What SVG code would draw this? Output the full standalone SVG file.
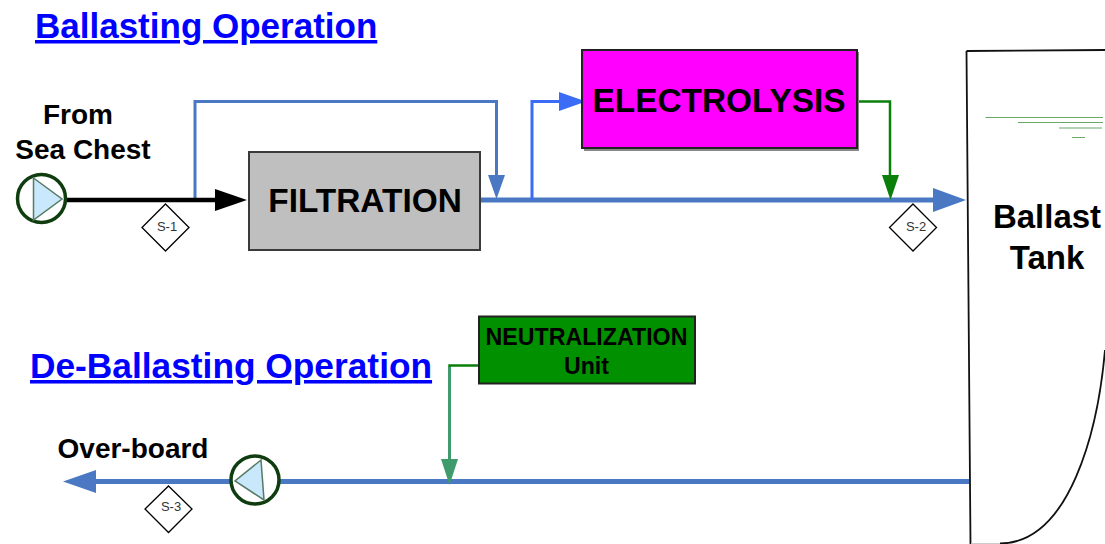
<svg xmlns="http://www.w3.org/2000/svg" width="1105" height="544" viewBox="0 0 1105 544">
<style>
text{font-family:"Liberation Sans",Arial,sans-serif;font-weight:bold;fill:#000;text-anchor:middle}
.head{fill:#0000ff;font-size:35px;text-anchor:start;text-decoration:underline}
.lbl{font-size:28px}
.s{font-size:13px;font-weight:normal;fill:#333}
.dia{fill:#fff;stroke:#000;stroke-width:1.3}
.pump{fill:#fff;stroke:#0f3d0f;stroke-width:3.5}
.tri{fill:#c9e8fb;stroke:#557a66;stroke-width:1.5}
.c{fill:none;stroke-linejoin:miter}
</style>
<rect width="1105" height="544" fill="#fff"/>
<text class="head" x="35" y="38" id="t-ballasting">Ballasting Operation</text>
<text class="head" x="30" y="378" style="font-size:35.300px" id="t-deballasting">De-Ballasting Operation</text>

<g id="node-tank">
<path d="M966.500,51 L1105,50 M966.500,51 L970.500,544" fill="none" stroke="#111" stroke-width="1.8"/>
<path d="M1105,350 C1098,430 1070,543 1000,543.500" fill="none" stroke="#111" stroke-width="1.8"/>
<path d="M971,543.500H1000" fill="none" stroke="#ccc" stroke-width="1"/>
<path d="M985.500,117.500H1103M1018,122.500H1103M1059,128H1102M1072,137.500H1085" fill="none" stroke="#6aa86a" stroke-width="1.200"/>
<text x="1047" y="228" style="font-size:33px">Ballast</text>
<text x="1047" y="269" style="font-size:33px">Tank</text>
</g>

<g id="connectors">
<path class="c" d="M480,200H945" stroke="#4a78c2" stroke-width="5"/>
<path d="M966,200 L933,188 V212Z" fill="#4a78c2"/>
<path class="c" d="M195,200V101.500H496.500V176" stroke="#4a78c2" stroke-width="3"/>
<path d="M496.500,199 L488,175 H505Z" fill="#4a78c2"/>
<path class="c" d="M532,200V101.500H560" stroke="#3a6cf5" stroke-width="3"/>
<path d="M586,101.500 L559,92 V111Z" fill="#3a6cf5"/>
<path class="c" d="M857,101.500H890V176" stroke="#0a800a" stroke-width="2.500"/>
<path d="M890.500,200 L882,175 H899Z" fill="#0a800a"/>
<path class="c" d="M64,200H216" stroke="#000" stroke-width="4.500"/>
<path d="M247,200 L215,189 V211Z" fill="#000"/>
<path class="c" d="M969,481.500H90" stroke="#4a78c2" stroke-width="5"/>
<path d="M63,481.500 L96,470 V493Z" fill="#4a78c2"/>
<path class="c" d="M480,365.500H449.500V368" stroke="#0a800a" stroke-width="2.500"/>
<path class="c" d="M449.500,367V460" stroke="#3f9a6c" stroke-width="3"/>
<path d="M449.500,485 L441,459 H458Z" fill="#3f9a6c"/>
</g>

<g id="node-filtration">
<rect x="249" y="152" width="231" height="98" fill="#bfbfbf" stroke="#3a3a3a" stroke-width="2"/>
<text x="365" y="212" style="font-size:33.400px">FILTRATION</text>
</g>
<g id="node-electrolysis">
<rect x="584" y="52" width="275" height="99" fill="#888"/>
<rect x="582" y="50" width="275" height="98" fill="#ff00ff" stroke="#222" stroke-width="2"/>
<text x="719" y="112" style="font-size:33.400px">ELECTROLYSIS</text>
</g>
<g id="node-neutralization">
<rect x="479" y="316.500" width="216" height="67" fill="#009000" stroke="#222" stroke-width="2"/>
<text x="586.500" y="345" style="font-size:23.200px">NEUTRALIZATION</text>
<text x="586.500" y="374" style="font-size:23.200px">Unit</text>
</g>

<g id="node-pump1">
<circle cx="41.500" cy="198.500" r="24" class="pump"/>
<path d="M33.500,178 L62,199 L33.500,220Z" class="tri"/>
</g>
<g id="node-pump2">
<circle cx="255" cy="480" r="24" class="pump"/>
<path d="M261,460 L235,481 L264,500Z" class="tri"/>
</g>

<g id="node-s1"><path d="M165.500,204 L189,227.500 L165.500,251 L142,227.500Z" class="dia"/><text class="s" x="167" y="231">S-1</text></g>
<g id="node-s2"><path d="M913,204 L936.500,227.500 L913,251 L889.500,227.500Z" class="dia"/><text class="s" x="916" y="231">S-2</text></g>
<g id="node-s3"><path d="M168.500,486 L192,509 L168.500,532.500 L145,509Z" class="dia"/><text class="s" x="171" y="511">S-3</text></g>

<text class="lbl" x="78" y="124">From</text>
<text class="lbl" x="83" y="159">Sea Chest</text>
<text class="lbl" x="133" y="458">Over-board</text>
</svg>
